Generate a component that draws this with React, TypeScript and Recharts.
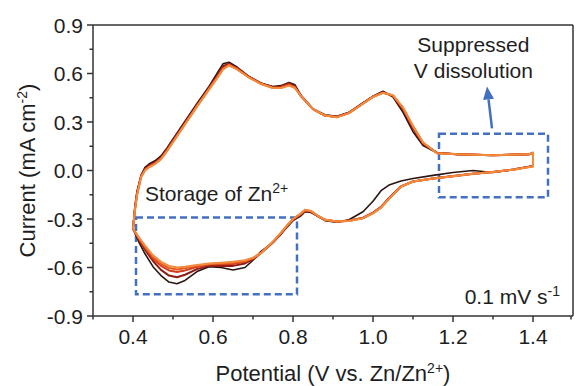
import React from 'react';
import {
  LineChart,
  Line,
  XAxis,
  YAxis,
  ReferenceArea,
  ReferenceLine,
  ReferenceDot,
} from 'recharts';

// potential (V) along one sweep: anodic 0.4 -> 1.4, then cathodic back to 0.4
const potential = [
  0.4, 0.405, 0.41, 0.42, 0.43, 0.44, 0.455, 0.47, 0.485, 0.5, 0.53, 0.56, 0.59, 0.61, 0.625, 0.64, 0.66, 0.69, 0.72, 0.75,
  0.77, 0.79, 0.805, 0.82, 0.85, 0.88, 0.91, 0.94, 0.97, 1.0, 1.025, 1.05, 1.075, 1.1, 1.125, 1.16, 1.21, 1.3, 1.39, 1.4,
  1.4, 1.35, 1.3, 1.25, 1.2, 1.15, 1.1, 1.07, 1.04, 1.02, 1.0, 0.975, 0.94, 0.91, 0.88, 0.86, 0.845, 0.83, 0.82, 0.8,
  0.785, 0.77, 0.75, 0.72, 0.7, 0.68, 0.65, 0.62, 0.59, 0.56, 0.53, 0.51, 0.49, 0.47, 0.45, 0.43, 0.415, 0.4,
];

// current (mA cm-2) for each cycle, same order as potential
const cycle1 = [
  -0.36, -0.22, -0.13, -0.03, 0.02, 0.04, 0.06, 0.09, 0.14, 0.195, 0.305, 0.415, 0.52, 0.6, 0.66, 0.67, 0.64, 0.58, 0.54, 0.52,
  0.525, 0.545, 0.53, 0.465, 0.38, 0.345, 0.335, 0.36, 0.41, 0.46, 0.49, 0.455, 0.36, 0.24, 0.155, 0.11, 0.1, 0.095, 0.1, 0.105,
  0.028, 0.005, -0.012, 0.0, -0.012, -0.03, -0.05, -0.065, -0.09, -0.125, -0.19, -0.255, -0.305, -0.32, -0.31, -0.28, -0.26, -0.255, -0.28, -0.31,
  -0.35, -0.395, -0.445, -0.5, -0.555, -0.6, -0.615, -0.6, -0.595, -0.625, -0.68, -0.7, -0.69, -0.65, -0.595, -0.515, -0.445, -0.36,
];
const cycle2 = [
  -0.36, -0.23, -0.14, -0.035, 0.01, 0.03, 0.05, 0.08, 0.13, 0.185, 0.295, 0.405, 0.51, 0.585, 0.645, 0.66, 0.635, 0.58, 0.54, 0.515,
  0.52, 0.54, 0.52, 0.46, 0.38, 0.34, 0.333, 0.358, 0.408, 0.458, 0.485, 0.46, 0.375, 0.26, 0.165, 0.11, 0.1, 0.095, 0.1, 0.108,
  0.028, 0.006, -0.009, -0.02, -0.034, -0.05, -0.068, -0.098, -0.17, -0.225, -0.26, -0.292, -0.31, -0.317, -0.306, -0.28, -0.255, -0.25, -0.272, -0.305,
  -0.345, -0.39, -0.445, -0.51, -0.55, -0.575, -0.59, -0.59, -0.59, -0.61, -0.645, -0.66, -0.65, -0.615, -0.56, -0.49, -0.43, -0.36,
];
const cycle3 = [
  -0.36, -0.235, -0.145, -0.038, 0.005, 0.025, 0.045, 0.075, 0.125, 0.18, 0.29, 0.4, 0.506, 0.577, 0.633, 0.655, 0.63, 0.578, 0.537, 0.512,
  0.515, 0.532, 0.515, 0.46, 0.38, 0.34, 0.331, 0.356, 0.406, 0.456, 0.482, 0.463, 0.385, 0.27, 0.17, 0.108, 0.1, 0.095, 0.1, 0.11,
  0.027, 0.006, -0.009, -0.02, -0.035, -0.05, -0.068, -0.099, -0.172, -0.228, -0.263, -0.294, -0.311, -0.316, -0.305, -0.278, -0.252, -0.248, -0.268, -0.302,
  -0.342, -0.387, -0.442, -0.51, -0.545, -0.565, -0.578, -0.58, -0.582, -0.597, -0.618, -0.628, -0.618, -0.59, -0.545, -0.478, -0.422, -0.36,
];
const cycle4 = [
  -0.36, -0.24, -0.15, -0.04, 0.002, 0.022, 0.042, 0.072, 0.122, 0.177, 0.288, 0.398, 0.503, 0.573, 0.628, 0.652, 0.627, 0.576, 0.536, 0.511,
  0.512, 0.528, 0.512, 0.46, 0.38, 0.34, 0.33, 0.355, 0.405, 0.455, 0.481, 0.464, 0.388, 0.273, 0.172, 0.107, 0.1, 0.095, 0.1, 0.11,
  0.026, 0.005, -0.01, -0.02, -0.035, -0.05, -0.068, -0.1, -0.174, -0.23, -0.264, -0.295, -0.311, -0.315, -0.305, -0.277, -0.251, -0.246, -0.266, -0.301,
  -0.341, -0.386, -0.441, -0.51, -0.542, -0.56, -0.571, -0.575, -0.578, -0.59, -0.605, -0.613, -0.603, -0.577, -0.535, -0.471, -0.418, -0.36,
];
const cycle5 = [
  -0.36, -0.245, -0.155, -0.042, 0.0, 0.02, 0.04, 0.07, 0.12, 0.175, 0.285, 0.395, 0.5, 0.57, 0.625, 0.65, 0.625, 0.575, 0.535, 0.51,
  0.51, 0.525, 0.51, 0.46, 0.38, 0.34, 0.33, 0.355, 0.405, 0.455, 0.48, 0.465, 0.39, 0.275, 0.175, 0.107, 0.1, 0.095, 0.1, 0.11,
  0.025, 0.005, -0.01, -0.02, -0.035, -0.05, -0.068, -0.1, -0.175, -0.23, -0.265, -0.295, -0.312, -0.315, -0.305, -0.277, -0.25, -0.242, -0.265, -0.3,
  -0.34, -0.385, -0.44, -0.51, -0.54, -0.555, -0.565, -0.57, -0.575, -0.585, -0.595, -0.6, -0.59, -0.565, -0.525, -0.465, -0.415, -0.36,
];

const cycles = [cycle1, cycle2, cycle3, cycle4, cycle5];
const cycleColors = ['#2a1511', '#8f1b13', '#d23a1c', '#e85a20', '#f28b3b'];

const xTicks = [0.3, 0.4, 0.5, 0.6, 0.7, 0.8, 0.9, 1.0, 1.1, 1.2, 1.3, 1.4, 1.5];
const yTicks = [-0.9, -0.75, -0.6, -0.45, -0.3, -0.15, 0, 0.15, 0.3, 0.45, 0.6, 0.75, 0.9];

// annotation boxes (data coords)
const storageBox = { x1: 0.4075, x2: 0.81, y1: -0.765, y2: -0.29 };
const dissolutionBox = { x1: 1.165, x2: 1.4375, y1: -0.166, y2: 0.228 };
const arrowFrom = { x: 1.2975, y: 0.26 };
const arrowTo = { x: 1.285, y: 0.52 };

const FONT = '"Liberation Sans", Arial, sans-serif';
const INK = '#1e1e1e';
const AXIS = '#333333';
const BLUE = '#4470c2';

const XTick = (props: any) => {
  const { x, y, payload } = props;
  const v = payload.value;
  const major = Math.round(v * 10) % 2 === 0;
  const axisY = y - 10;
  return (
    <g>
      <line x1={x} x2={x} y1={axisY} y2={axisY + (major ? 6 : 3.5)} stroke={AXIS} strokeWidth={1.5} />
      {major && (
        <text x={x} y={axisY + 28} textAnchor="middle" fontSize={21} fontFamily={FONT} fill={INK}>
          {v.toFixed(1)}
        </text>
      )}
    </g>
  );
};

const YTick = (props: any) => {
  const { x, y, payload } = props;
  const v = payload.value;
  const major = Math.abs(Math.round(v / 0.15)) % 2 === 0;
  const axisX = x + 10;
  return (
    <g>
      <line x1={axisX - (major ? 6 : 3.5)} x2={axisX} y1={y} y2={y} stroke={AXIS} strokeWidth={1.5} />
      {major && (
        <text x={axisX - 10} y={y} dy="0.36em" textAnchor="end" fontSize={21} fontFamily={FONT} fill={INK}>
          {v.toFixed(1)}
        </text>
      )}
    </g>
  );
};

const ArrowShape = (p: any) => {
  const { x1, y1, x2, y2 } = p;
  const dx = x2 - x1;
  const dy = y2 - y1;
  const len = Math.sqrt(dx * dx + dy * dy);
  const ux = dx / len;
  const uy = dy / len;
  const head = 13;
  const half = 5.5;
  const bx = x2 - ux * head;
  const by = y2 - uy * head;
  return (
    <g>
      <line x1={x1} y1={y1} x2={bx} y2={by} stroke={BLUE} strokeWidth={2.5} />
      <polygon
        points={`${x2},${y2} ${bx - uy * half},${by + ux * half} ${bx + uy * half},${by - ux * half}`}
        fill={BLUE}
      />
    </g>
  );
};

const textLabel = (lines: React.ReactNode, anchor: 'start' | 'middle' | 'end') => (p: any) => {
  const vb = p.viewBox || {};
  const cx = (vb.x || 0) + (vb.width || 0) / 2;
  const cy = (vb.y || 0) + (vb.height || 0) / 2;
  return (
    <text x={cx} y={cy} textAnchor={anchor} fontSize={21} fontFamily={FONT} fill={INK}>
      {lines}
    </text>
  );
};

export default function App() {
  return (
    <div style={{ position: 'absolute', left: 0, top: 0, background: '#fff' }}>
      <LineChart width={581} height={386} margin={{ top: 25, right: 8, left: 0, bottom: 0 }}>
        <XAxis
          type="number"
          dataKey="x"
          domain={[0.3, 1.5]}
          ticks={xTicks}
          allowDataOverflow
          height={70}
          tickSize={6}
          tickMargin={4}
          tickLine={false}
          tick={<XTick />}
          axisLine={{ stroke: AXIS, strokeWidth: 1.5 }}
          label={{
            content: (p: any) => {
              const vb = p.viewBox;
              return (
                <text x={vb.x + vb.width / 2} y={vb.y + 65} textAnchor="middle" fontSize={22} fontFamily={FONT} fill={INK}>
                  Potential (V vs. Zn/Zn
                  <tspan dy={-8} fontSize={14}>2+</tspan>
                  <tspan dy={8}>)</tspan>
                </text>
              );
            },
          }}
        />
        <YAxis
          type="number"
          domain={[-0.9, 0.9]}
          ticks={yTicks}
          allowDataOverflow
          width={93}
          tickSize={6}
          tickMargin={4}
          tickLine={false}
          tick={<YTick />}
          axisLine={{ stroke: AXIS, strokeWidth: 1.5 }}
          label={{
            content: (p: any) => {
              const vb = p.viewBox;
              const cx = 35;
              const cy = vb.y + vb.height / 2;
              return (
                <text
                  x={cx}
                  y={cy}
                  transform={`rotate(-90, ${cx}, ${cy})`}
                  textAnchor="middle"
                  fontSize={22}
                  fontFamily={FONT}
                  fill={INK}
                >
                  Current (mA cm
                  <tspan dy={-8} fontSize={14}>-2</tspan>
                  <tspan dy={8}>)</tspan>
                </text>
              );
            },
          }}
        />

        <ReferenceLine y={0.9} stroke={AXIS} strokeWidth={1.5} />
        <ReferenceLine x={1.5} stroke={AXIS} strokeWidth={1.5} />

        {cycles.map((c, i) => (
          <Line
            key={i}
            data={potential.map((v, j) => ({ x: v, y: c[j] }))}
            dataKey="y"
            type="linear"
            stroke={cycleColors[i]}
            strokeWidth={i === 0 ? 1.6 : 2}
            strokeLinejoin="round"
            dot={false}
            activeDot={false}
            isAnimationActive={false}
          />
        ))}

        <ReferenceArea
          x1={storageBox.x1}
          x2={storageBox.x2}
          y1={storageBox.y1}
          y2={storageBox.y2}
          fill="none"
          fillOpacity={0}
          stroke={BLUE}
          strokeWidth={2.5}
          strokeDasharray="7 4"
        />
        <ReferenceArea
          x1={dissolutionBox.x1}
          x2={dissolutionBox.x2}
          y1={dissolutionBox.y1}
          y2={dissolutionBox.y2}
          fill="none"
          fillOpacity={0}
          stroke={BLUE}
          strokeWidth={2.5}
          strokeDasharray="7 4"
        />
        <ReferenceLine segment={[arrowFrom, arrowTo]} shape={<ArrowShape />} />

        <ReferenceDot
          x={0.43}
          y={-0.19}
          r={0}
          fill="none"
          stroke="none"
          label={{
            content: textLabel(
              <>
                Storage of Zn<tspan dy={-8} fontSize={14}>2+</tspan>
              </>,
              'start'
            ),
          }}
        />
        <ReferenceDot
          x={1.251}
          y={0.733}
          r={0}
          fill="none"
          stroke="none"
          label={{ content: textLabel('Suppressed', 'middle') }}
        />
        <ReferenceDot
          x={1.251}
          y={0.573}
          r={0}
          fill="none"
          stroke="none"
          label={{ content: textLabel('V dissolution', 'middle') }}
        />
        <ReferenceDot
          x={1.4675}
          y={-0.826}
          r={0}
          fill="none"
          stroke="none"
          label={{
            content: textLabel(
              <>
                0.1 mV s<tspan dy={-8} fontSize={14}>-1</tspan>
              </>,
              'end'
            ),
          }}
        />
      </LineChart>
    </div>
  );
}
